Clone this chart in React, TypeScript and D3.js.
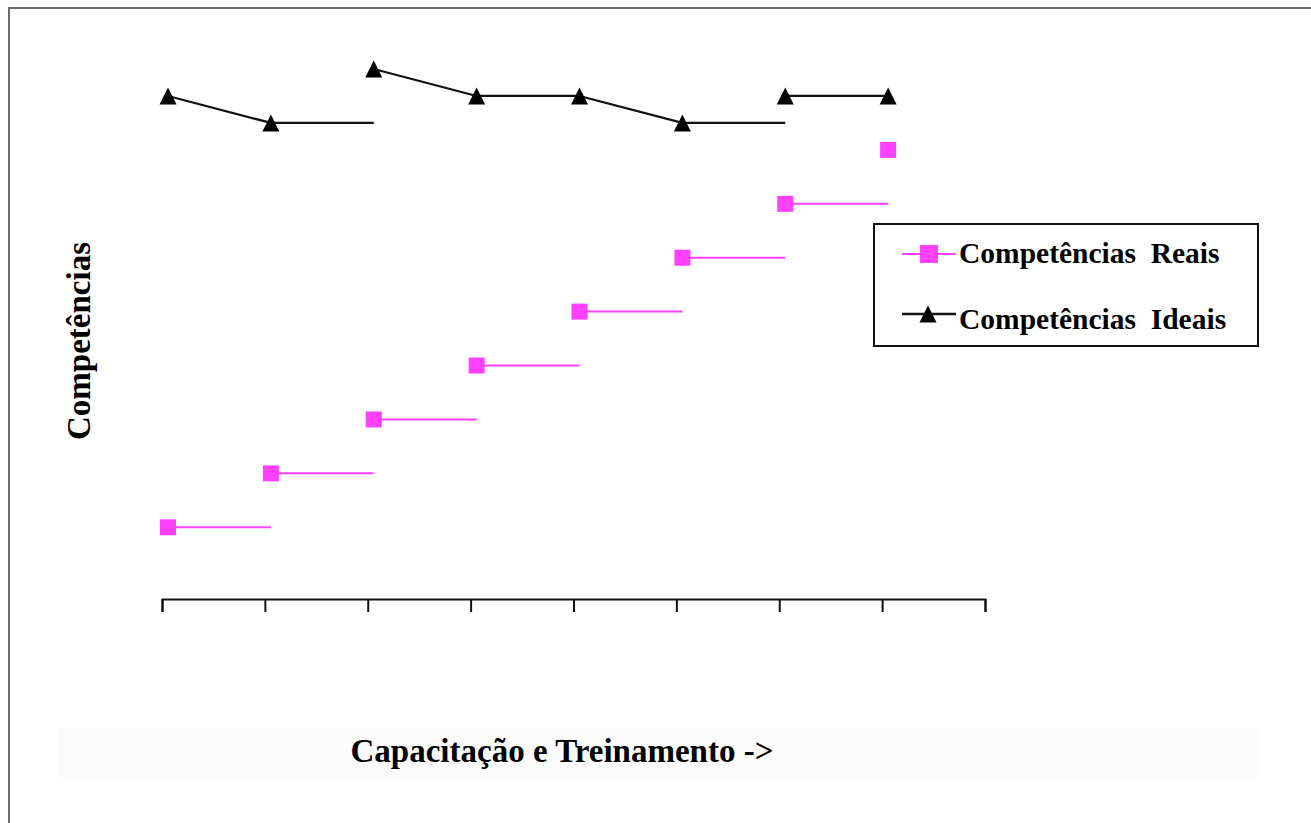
import React, { useEffect, useRef } from 'react';
import * as d3 from 'd3';

// categories on the x axis (no labels are shown in the chart)
const categories = ['1', '2', '3', '4', '5', '6', '7', '8'];
const tickLabels = ['', '', '', '', '', '', '', '', ''];

// Competências Reais
const reais = [1, 2, 3, 4, 5, 6, 7, 8];
// Competências Ideais
const ideais = [9, 8.5, 9.5, 9, 9, 8.5, 9, 9];

// how each point goes on to the next one: 'link' draws to the next value, 'hold' stays flat
const reaisLinks = ['hold', 'hold', 'hold', 'hold', 'hold', 'hold', 'hold'];
const ideaisLinks = ['link', 'hold', 'link', 'link', 'link', 'hold', 'link'];

const seriesNames = ['Competências  Reais', 'Competências  Ideais'];

const W = 1311;
const H = 823;
const plot = { left: 162, right: 985, top: 69, bottom: 599 };
const markerShift = 6;
const pink = '#FF40FF';
const font = "'Liberation Serif', 'Times New Roman', serif";
const trianglePath = 'M0,-8.5L8.5,8.5L-8.5,8.5Z';

const App = () => {
    const container = useRef(null);

    useEffect(() => {
        if (!container.current) return;
        const root = d3.select(container.current);
        root.selectAll('*').remove();

        const svg = root.append('svg')
            .attr('width', W)
            .attr('height', H)
            .style('display', 'block');

        svg.append('rect').attr('width', W).attr('height', H).attr('fill', '#fff');

        // faint band behind the x title
        svg.append('rect')
            .attr('x', 59).attr('y', 728)
            .attr('width', 1201).attr('height', 49)
            .attr('fill', '#fbfbfb');

        // frame (top and left edges only)
        svg.append('path')
            .attr('d', `M9,${H}V8H${W}`)
            .attr('fill', 'none')
            .attr('stroke', '#6b6b6b')
            .attr('stroke-width', 2);

        const xScale = d3.scaleLinear()
            .domain([0, categories.length])
            .range([plot.left, plot.right]);

        const yScale = d3.scaleLinear()
            .domain([-0.33, 9.5])
            .range([plot.bottom, plot.top]);

        const px = (i: number) => xScale(i) + markerShift;

        const xAxis = d3.axisBottom(xScale)
            .tickValues(d3.range(tickLabels.length))
            .tickFormat((d: any) => tickLabels[d])
            .tickSizeInner(13)
            .tickSizeOuter(13);

        const axisG = svg.append('g')
            .attr('transform', `translate(0, ${plot.bottom})`)
            .call(xAxis);
        axisG.selectAll('path, line')
            .attr('stroke', '#111')
            .attr('stroke-width', 2);

        const segs = (vals: number[], links: string[]) =>
            links.map((l, i) => ({
                x1: px(i), y1: yScale(vals[i]),
                x2: px(i + 1), y2: yScale(l === 'link' ? vals[i + 1] : vals[i]),
            }));

        // Reais
        svg.append('g').selectAll('line')
            .data(segs(reais, reaisLinks))
            .join('line')
            .attr('x1', d => d.x1).attr('y1', d => d.y1)
            .attr('x2', d => d.x2).attr('y2', d => d.y2)
            .attr('stroke', pink)
            .attr('stroke-width', 2);

        svg.append('g').selectAll('rect')
            .data(reais)
            .join('rect')
            .attr('x', (d, i) => px(i) - 8)
            .attr('y', d => yScale(d) - 8)
            .attr('width', 16)
            .attr('height', 16)
            .attr('fill', pink);

        // Ideais
        svg.append('g').selectAll('line')
            .data(segs(ideais, ideaisLinks))
            .join('line')
            .attr('x1', d => d.x1).attr('y1', d => d.y1)
            .attr('x2', d => d.x2).attr('y2', d => d.y2)
            .attr('stroke', '#111')
            .attr('stroke-width', 2.2);

        svg.append('g').selectAll('path')
            .data(ideais)
            .join('path')
            .attr('transform', (d, i) => `translate(${px(i)}, ${yScale(d)})`)
            .attr('d', trianglePath)
            .attr('fill', '#000');

        // legend
        const lg = svg.append('g');
        lg.append('rect')
            .attr('x', 874).attr('y', 224)
            .attr('width', 384).attr('height', 122)
            .attr('fill', '#fff')
            .attr('stroke', '#111')
            .attr('stroke-width', 2);

        const rows = [
            { y: 254, ty: 263, color: pink, marker: 'square', width: 2 },
            { y: 314, ty: 329, color: '#111', marker: 'triangle', width: 2.4 },
        ];
        rows.forEach((r, i) => {
            lg.append('line')
                .attr('x1', 902).attr('x2', 956)
                .attr('y1', r.y).attr('y2', r.y)
                .attr('stroke', r.color)
                .attr('stroke-width', r.width);
            if (r.marker === 'square') {
                lg.append('rect')
                    .attr('x', 920).attr('y', r.y - 9)
                    .attr('width', 18).attr('height', 18)
                    .attr('fill', pink);
            } else {
                lg.append('path')
                    .attr('transform', `translate(928, ${r.y})`)
                    .attr('d', trianglePath)
                    .attr('fill', '#000');
            }
            lg.append('text')
                .attr('x', 959)
                .attr('y', r.ty)
                .attr('font-family', font)
                .attr('font-weight', 'bold')
                .attr('font-size', 29.5)
                .style('white-space', 'pre')
                .attr('fill', '#000')
                .text(seriesNames[i]);
        });

        // axis titles
        svg.append('text')
            .attr('x', 562)
            .attr('y', 762)
            .attr('text-anchor', 'middle')
            .attr('font-family', font)
            .attr('font-weight', 'bold')
            .attr('font-size', 33)
            .attr('fill', '#000')
            .text('Capacitação e Treinamento ->');

        svg.append('text')
            .attr('transform', 'translate(90, 341) rotate(-90)')
            .attr('text-anchor', 'middle')
            .attr('font-family', font)
            .attr('font-weight', 'bold')
            .attr('font-size', 33)
            .attr('fill', '#000')
            .text('Competências');
    }, []);

    return (<div ref={container} style={{ position: 'absolute', left: 0, top: 0 }} />);
};

export default App;
